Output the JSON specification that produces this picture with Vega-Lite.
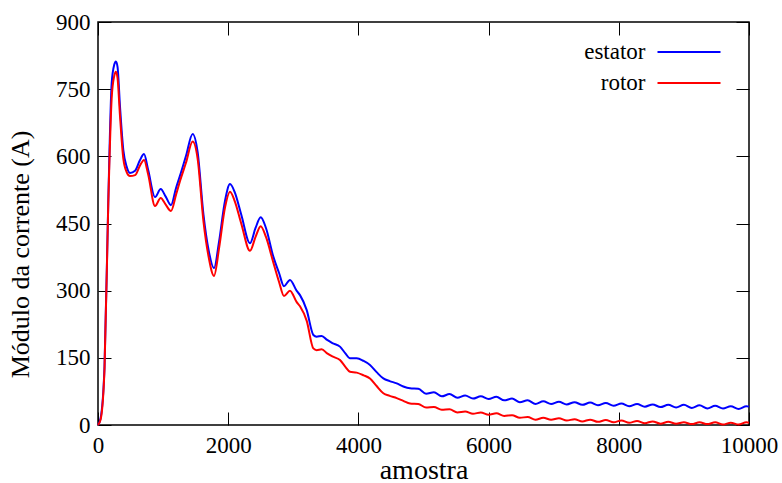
{
  "$schema": "https://vega.github.io/schema/vega-lite/v6.json",
  "width": 651,
  "height": 403,
  "autosize": {"type": "none"},
  "padding": {"left": 98, "top": 22, "right": 33, "bottom": 58},
  "background": "white",
  "config": {
    "view": {"stroke": "black", "strokeWidth": 1.5},
    "font": "Liberation Serif, Times New Roman, serif",
    "axis": {
      "domain": false,
      "grid": false,
      "tickSize": -13,
      "tickColor": "black",
      "tickWidth": 1,
      "labelFont": "Liberation Serif, Times New Roman, serif",
      "labelFontSize": 23,
      "labelColor": "black",
      "titleFont": "Liberation Serif, Times New Roman, serif",
      "titleFontSize": 26,
      "titleFontWeight": "normal",
      "titleColor": "black"
    },
    "legend": {"labelFont": "Liberation Serif, Times New Roman, serif", "titleFont": "Liberation Serif, Times New Roman, serif"}
  },
  "data": {
    "values": [
      {"amostra": 0, "estator": 0, "rotor": 0},
      {"amostra": 40, "estator": 15, "rotor": 12},
      {"amostra": 100, "estator": 130, "rotor": 125},
      {"amostra": 158, "estator": 500, "rotor": 495},
      {"amostra": 210, "estator": 763, "rotor": 730},
      {"amostra": 250, "estator": 805, "rotor": 780},
      {"amostra": 275, "estator": 812, "rotor": 789},
      {"amostra": 300, "estator": 800, "rotor": 775},
      {"amostra": 338, "estator": 711, "rotor": 690},
      {"amostra": 389, "estator": 614, "rotor": 595},
      {"amostra": 440, "estator": 577, "rotor": 565},
      {"amostra": 491, "estator": 563, "rotor": 556},
      {"amostra": 570, "estator": 568, "rotor": 558},
      {"amostra": 640, "estator": 590, "rotor": 578},
      {"amostra": 707, "estator": 605, "rotor": 592},
      {"amostra": 770, "estator": 570, "rotor": 560},
      {"amostra": 876, "estator": 509, "rotor": 489},
      {"amostra": 963, "estator": 527, "rotor": 507},
      {"amostra": 1040, "estator": 510, "rotor": 492},
      {"amostra": 1121, "estator": 491, "rotor": 478},
      {"amostra": 1200, "estator": 530, "rotor": 515},
      {"amostra": 1260, "estator": 557, "rotor": 545},
      {"amostra": 1350, "estator": 600, "rotor": 585},
      {"amostra": 1454, "estator": 650, "rotor": 633},
      {"amostra": 1530, "estator": 610, "rotor": 595},
      {"amostra": 1620, "estator": 470, "rotor": 455},
      {"amostra": 1700, "estator": 390, "rotor": 375},
      {"amostra": 1782, "estator": 350, "rotor": 333},
      {"amostra": 1860, "estator": 410, "rotor": 395},
      {"amostra": 1950, "estator": 500, "rotor": 485},
      {"amostra": 2028, "estator": 538, "rotor": 521},
      {"amostra": 2100, "estator": 520, "rotor": 500},
      {"amostra": 2200, "estator": 470, "rotor": 450},
      {"amostra": 2335, "estator": 406, "rotor": 389},
      {"amostra": 2420, "estator": 440, "rotor": 420},
      {"amostra": 2499, "estator": 464, "rotor": 444},
      {"amostra": 2580, "estator": 440, "rotor": 420},
      {"amostra": 2693, "estator": 376, "rotor": 363},
      {"amostra": 2780, "estator": 340, "rotor": 320},
      {"amostra": 2857, "estator": 310, "rotor": 288},
      {"amostra": 2949, "estator": 324, "rotor": 300},
      {"amostra": 3050, "estator": 300, "rotor": 275},
      {"amostra": 3103, "estator": 290, "rotor": 265},
      {"amostra": 3205, "estator": 257, "rotor": 233},
      {"amostra": 3308, "estator": 201, "rotor": 171},
      {"amostra": 3359, "estator": 197, "rotor": 167},
      {"amostra": 3436, "estator": 199, "rotor": 169},
      {"amostra": 3520, "estator": 190, "rotor": 160},
      {"amostra": 3600, "estator": 183, "rotor": 153},
      {"amostra": 3717, "estator": 175, "rotor": 145},
      {"amostra": 3800, "estator": 160, "rotor": 130},
      {"amostra": 3871, "estator": 149, "rotor": 119},
      {"amostra": 3974, "estator": 149, "rotor": 117},
      {"amostra": 4080, "estator": 143, "rotor": 111},
      {"amostra": 4178, "estator": 134, "rotor": 104},
      {"amostra": 4280, "estator": 118, "rotor": 87},
      {"amostra": 4383, "estator": 104, "rotor": 71},
      {"amostra": 4480, "estator": 98, "rotor": 65},
      {"amostra": 4588, "estator": 93, "rotor": 60},
      {"amostra": 4690, "estator": 86, "rotor": 54},
      {"amostra": 4793, "estator": 82, "rotor": 48},
      {"amostra": 4920, "estator": 81, "rotor": 47},
      {"amostra": 5040, "estator": 70, "rotor": 39},
      {"amostra": 5160, "estator": 73, "rotor": 40},
      {"amostra": 5280, "estator": 64, "rotor": 34},
      {"amostra": 5400, "estator": 69, "rotor": 35},
      {"amostra": 5520, "estator": 61, "rotor": 28},
      {"amostra": 5640, "estator": 66, "rotor": 30},
      {"amostra": 5760, "estator": 59, "rotor": 25},
      {"amostra": 5880, "estator": 64, "rotor": 28},
      {"amostra": 6000, "estator": 58, "rotor": 23},
      {"amostra": 6120, "estator": 63, "rotor": 26},
      {"amostra": 6240, "estator": 55, "rotor": 20},
      {"amostra": 6360, "estator": 59, "rotor": 22},
      {"amostra": 6480, "estator": 51, "rotor": 16},
      {"amostra": 6600, "estator": 55, "rotor": 18},
      {"amostra": 6720, "estator": 47, "rotor": 12},
      {"amostra": 6840, "estator": 53, "rotor": 16},
      {"amostra": 6960, "estator": 47, "rotor": 12},
      {"amostra": 7080, "estator": 52, "rotor": 15},
      {"amostra": 7200, "estator": 46, "rotor": 10},
      {"amostra": 7320, "estator": 51, "rotor": 13},
      {"amostra": 7440, "estator": 45, "rotor": 8},
      {"amostra": 7560, "estator": 50, "rotor": 12},
      {"amostra": 7680, "estator": 44, "rotor": 7},
      {"amostra": 7800, "estator": 49, "rotor": 11},
      {"amostra": 7920, "estator": 43, "rotor": 6},
      {"amostra": 8040, "estator": 48, "rotor": 10},
      {"amostra": 8160, "estator": 42, "rotor": 5},
      {"amostra": 8280, "estator": 47, "rotor": 9},
      {"amostra": 8400, "estator": 41, "rotor": 4},
      {"amostra": 8520, "estator": 46, "rotor": 8},
      {"amostra": 8640, "estator": 40, "rotor": 3},
      {"amostra": 8760, "estator": 45, "rotor": 7},
      {"amostra": 8880, "estator": 39, "rotor": 3},
      {"amostra": 9000, "estator": 45, "rotor": 6},
      {"amostra": 9120, "estator": 38, "rotor": 2},
      {"amostra": 9240, "estator": 44, "rotor": 6},
      {"amostra": 9360, "estator": 37, "rotor": 2},
      {"amostra": 9480, "estator": 43, "rotor": 6},
      {"amostra": 9600, "estator": 37, "rotor": 1},
      {"amostra": 9720, "estator": 42, "rotor": 5},
      {"amostra": 9840, "estator": 36, "rotor": 1},
      {"amostra": 9960, "estator": 42, "rotor": 6},
      {"amostra": 10000, "estator": 41, "rotor": 5}
    ]
  },
  "transform": [
    {"fold": ["estator", "rotor"], "as": ["serie", "valor"]}
  ],
  "layer": [
    {
      "mark": {"type": "line", "interpolate": "monotone", "strokeWidth": 2},
      "encoding": {
        "x": {
          "field": "amostra", "type": "quantitative",
          "scale": {"domain": [0, 10000], "nice": false},
          "axis": {"orient": "bottom", "title": "amostra", "format": "d", "values": [0, 2000, 4000, 6000, 8000, 10000], "labelPadding": 22, "titleFontSize": 28, "titleBaseline": "alphabetic", "titleY": 53, "labelFlush": false}
        },
        "y": {
          "field": "valor", "type": "quantitative",
          "scale": {"domain": [0, 900], "nice": false},
          "axis": {"orient": "left", "title": "Módulo da corrente (A)", "format": "d", "values": [0, 150, 300, 450, 600, 750, 900], "labelPadding": 21, "titlePadding": 22, "titleY": 232, "labelFlush": false}
        },
        "color": {
          "field": "serie", "type": "nominal",
          "scale": {"domain": ["estator", "rotor"], "range": ["#0000ff", "#ff0000"]},
          "legend": {
            "title": null,
            "orient": "none",
            "legendX": 579.5,
            "legendY": 18.5,
            "padding": 0,
            "symbolType": "M-3.5,0H3.5",
            "symbolSize": 324,
            "symbolStrokeWidth": 2,
            "rowPadding": 7,
            "labelAlign": "right",
            "labelOffset": -55,
            "labelFontSize": 23,
            "labelColor": "black"
          }
        }
      }
    },
    {
      "mark": {"type": "line", "opacity": 0},
      "encoding": {
        "x": {
          "field": "amostra", "type": "quantitative",
          "axis": {"orient": "top", "title": null, "labels": false, "values": [0, 2000, 4000, 6000, 8000, 10000]}
        },
        "y": {
          "field": "valor", "type": "quantitative",
          "axis": {"orient": "right", "title": null, "labels": false, "values": [0, 150, 300, 450, 600, 750, 900]}
        },
        "detail": {"field": "serie", "type": "nominal"}
      }
    }
  ],
  "resolve": {"axis": {"x": "independent", "y": "independent"}}
}
